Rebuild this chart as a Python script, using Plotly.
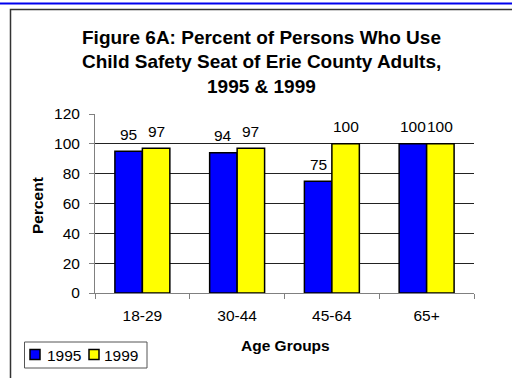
import plotly.graph_objects as go

# Survey data
age_groups = ["18-29", "30-44", "45-64", "65+"]
pct_1995 = [95, 94, 75, 100]
pct_1999 = [97, 97, 100, 100]
years = ["1995", "1999"]
bar_colors = ["#0000FF", "#FFFF00"]
y_ticks = [0, 20, 40, 60, 80, 100, 120]

FONT = "Liberation Sans, Arial, sans-serif"
FS = 15.5

# plot area in pixels (512 x 378 canvas)
PX_L, PX_R, PX_T, PX_B = 95, 474, 114, 293
W, H = 512, 378


def px_x(px):
    return (px - PX_L) / (PX_R - PX_L)


def px_y(py):
    return (PX_B - py) / (PX_B - PX_T)


fig = go.Figure()
for name, vals, col in zip(years, [pct_1995, pct_1999], bar_colors):
    fig.add_trace(go.Bar(
        x=age_groups, y=vals, name=name,
        marker=dict(color=col, line=dict(color="black", width=1.5)),
        showlegend=False,
    ))

annotations = []
# value labels above each bar
cat_w = (PX_R - PX_L) / len(age_groups)
bar_w = cat_w * (1 - 0.42) / 2
for k, vals in enumerate([pct_1995, pct_1999]):
    shift = (k - 0.5) * bar_w
    for cat, v in zip(age_groups, vals):
        annotations.append(dict(
            x=cat, y=v, xref="x", yref="y", text=str(v), showarrow=False,
            xshift=shift, yshift=17, yanchor="middle",
            font=dict(family=FONT, size=FS, color="black"),
        ))

# chart title, one annotation per line
title_lines = ["Figure 6A: Percent of Persons Who Use",
               "Child Safety Seat of Erie County Adults,",
               "1995 & 1999"]
for i, line in enumerate(title_lines):
    annotations.append(dict(
        x=px_x(261), y=px_y(37.5 + 24.3 * i), xref="paper", yref="paper",
        text="<b>%s</b>" % line, showarrow=False, yanchor="middle",
        font=dict(family=FONT, size=19, color="black"),
    ))

# axis titles
annotations.append(dict(
    x=px_x(285), y=px_y(345), xref="paper", yref="paper",
    text="<b>Age Groups</b>", showarrow=False, yanchor="middle",
    font=dict(family=FONT, size=FS, color="black"),
))
annotations.append(dict(
    x=px_x(37), y=px_y(206), xref="paper", yref="paper",
    text="<b>Percent</b>", showarrow=False, textangle=-90,
    xanchor="center", yanchor="middle",
    font=dict(family=FONT, size=FS, color="black"),
))

shapes = [
    # blue rule at the very top
    dict(type="line", xref="paper", yref="paper",
         x0=px_x(-5), x1=px_x(520), y0=px_y(3.5), y1=px_y(3.5),
         line=dict(color="#0000EE", width=2)),
    # outer chart frame
    dict(type="rect", xref="paper", yref="paper",
         x0=px_x(10.5), x1=px_x(530), y0=px_y(400), y1=px_y(9.5),
         line=dict(color="#333333", width=1.5), layer="below"),
    # legend box
    dict(type="rect", xref="paper", yref="paper",
         x0=px_x(24.5), x1=px_x(147), y0=px_y(368), y1=px_y(342),
         line=dict(color="#555555", width=1), fillcolor="white"),
]

# legend entries: swatch + label per year
legend_swatch_x = [30, 89]
legend_text_x = [45, 102]
for yr, col, sx, tx in zip(years, bar_colors, legend_swatch_x, legend_text_x):
    shapes.append(dict(
        type="rect", xref="paper", yref="paper",
        x0=px_x(sx), x1=px_x(sx + 10), y0=px_y(359.5), y1=px_y(349.5),
        fillcolor=col, line=dict(color="black", width=1.5),
    ))
    annotations.append(dict(
        x=px_x(tx), y=px_y(355), xref="paper", yref="paper", text=yr,
        showarrow=False, xanchor="left", yanchor="middle",
        font=dict(family=FONT, size=FS, color="black"),
    ))

fig.update_layout(
    width=W, height=H,
    margin=dict(l=PX_L, r=W - PX_R, t=PX_T, b=H - PX_B),
    paper_bgcolor="white", plot_bgcolor="white",
    barmode="group", bargap=0.42, bargroupgap=0,
    font=dict(family=FONT, size=FS, color="black"),
    showlegend=False,
    annotations=annotations, shapes=shapes,
)

fig.update_xaxes(
    type="category", showline=True, linecolor="#808080", linewidth=1,
    ticks="outside", tickson="boundaries", ticklen=5, tickcolor="#808080",
    ticklabelstandoff=8, showgrid=False,
    tickfont=dict(family=FONT, size=FS, color="black"),
)
fig.update_yaxes(
    range=[0, 120], tickvals=y_ticks, showline=True, linecolor="#808080",
    linewidth=1, ticks="outside", ticklen=5, tickcolor="#808080",
    ticklabelstandoff=6, showgrid=True, gridcolor="#222222", gridwidth=1,
    zeroline=False,
    tickfont=dict(family=FONT, size=FS, color="black"),
)

fig.write_html("out.html")
